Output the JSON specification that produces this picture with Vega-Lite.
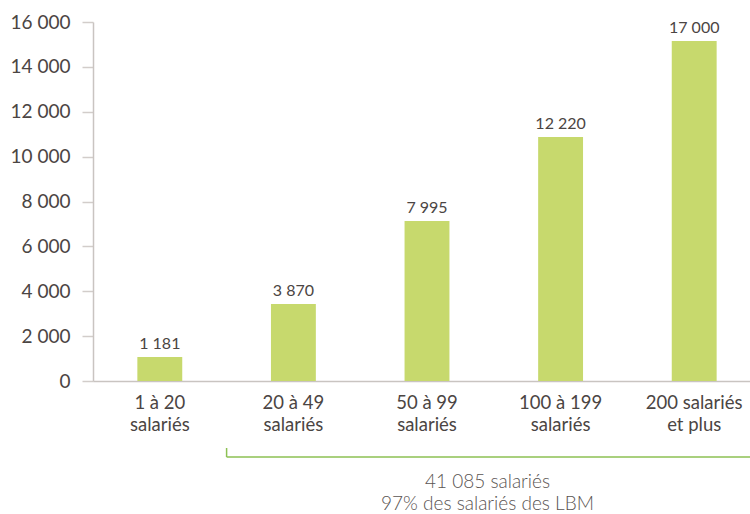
{
  "$schema": "https://vega.github.io/schema/vega-lite/v6.json",
  "width": 657,
  "height": 359,
  "autosize": {"type": "none"},
  "padding": {"left": 93, "top": 22, "right": 0, "bottom": 133},
  "background": "white",
  "config": {"view": {"stroke": null}, "font": "Lato"},
  "data": {
    "values": [
      {"cat": "1 à 20|salariés", "value": 1070, "label": "1 181"},
      {"cat": "20 à 49|salariés", "value": 3430, "label": "3 870"},
      {"cat": "50 à 99|salariés", "value": 7130, "label": "7 995"},
      {"cat": "100 à 199|salariés", "value": 10870, "label": "12 220"},
      {"cat": "200 salariés|et plus", "value": 15150, "label": "17 000"}
    ]
  },
  "encoding": {
    "x": {
      "field": "cat",
      "type": "nominal",
      "sort": null,
      "scale": {
        "domain": ["1 à 20|salariés", "20 à 49|salariés", "50 à 99|salariés", "100 à 199|salariés", "200 salariés|et plus"],
        "range": [0, 668],
        "paddingInner": 0,
        "paddingOuter": 0
      },
      "axis": {
        "labelExpr": "split(datum.value, '|')",
        "labelAngle": 0,
        "labelBaseline": "top",
        "labelPadding": 12,
        "labelLineHeight": 22,
        "labelFontSize": 18.5,
        "labelColor": "#4b4543",
        "ticks": false,
        "domainColor": "#c9c4c1",
        "domainWidth": 1.5,
        "title": ["41 085 salariés", "97% des salariés des LBM"],
        "titleFontSize": 19,
        "titleFontWeight": 300,
        "titleColor": "#5a5452",
        "titleX": 394,
        "titleY": 91,
        "titleBaseline": "top",
        "titleAlign": "center",
        "titleLineHeight": 22
      }
    }
  },
  "layer": [
    {
      "mark": {"type": "bar", "width": {"band": 0.336}, "color": "#c7d96d"},
      "encoding": {
        "y": {
          "field": "value",
          "type": "quantitative",
          "scale": {"domain": [0, 16000], "nice": false},
          "axis": {
            "values": [0, 2000, 4000, 6000, 8000, 10000, 12000, 14000, 16000],
            "labelExpr": "replace(format(datum.value, ','), ',', ' ')",
            "grid": false,
            "tickSize": 11,
            "tickColor": "#d2cdca",
            "tickWidth": 1.5,
            "domainColor": "#c9c4c1",
            "domainWidth": 1.5,
            "labelPadding": 12,
            "labelFontSize": 19,
            "labelColor": "#4b4543",
            "title": null
          }
        }
      }
    },
    {
      "mark": {"type": "text", "baseline": "alphabetic", "dy": -8, "fontSize": 16, "color": "#4b4543"},
      "encoding": {
        "y": {"field": "value", "type": "quantitative"},
        "text": {"field": "label"}
      }
    },
    {
      "transform": [{"filter": "datum.label == '3 870'"}],
      "mark": {"type": "rule", "color": "#8cc153", "strokeWidth": 1.5, "yOffset": 76},
      "encoding": {
        "x": {"field": "cat", "type": "nominal", "bandPosition": 0},
        "x2": {"value": "width"},
        "y": {"value": "height"}
      }
    },
    {
      "transform": [{"filter": "datum.label == '3 870'"}],
      "mark": {"type": "rule", "color": "#8cc153", "strokeWidth": 1.5, "yOffset": 67, "y2Offset": 76},
      "encoding": {
        "x": {"field": "cat", "type": "nominal", "bandPosition": 0},
        "y": {"value": "height"},
        "y2": {"value": "height"}
      }
    }
  ]
}
